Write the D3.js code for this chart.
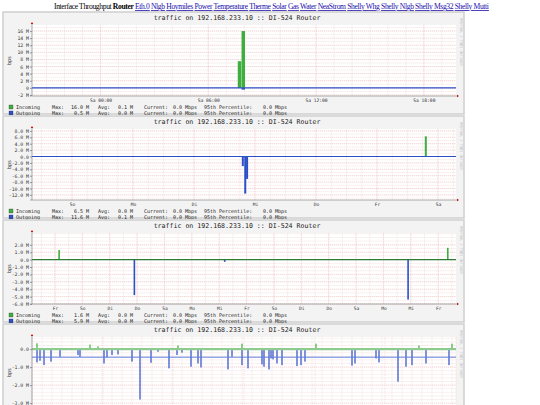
<!DOCTYPE html>
<html><head><meta charset="utf-8">
<script src="https://cdn.jsdelivr.net/npm/d3@7"></script>
<style>
body { margin:0; background:#fff; }
svg text { font-family: "DejaVu Sans Mono", monospace; }
</style></head>
<body><svg id="c" width="540" height="405"></svg>
<script>
var W = 540, H = 405;
var PX0 = 32, PX1 = 456;   // plot x range
var PANEL_X0 = 3, PANEL_X1 = 464;

var navLinks = ["Eth.0", "Nlgb", "Hoymiles", "Power", "Temperature", "Therme", "Solar", "Gas",
    "Water", "NeaStrom", "Shelly Whg", "Shelly Nlgb", "Shelly Msg32", "Shelly Mutti"];

// panel 1: one day, x in hours
var p1Ticks = [0, 6, 12, 18];
var p1TickLabels = ["Sa 00:00", "Sa 06:00", "Sa 12:00", "Sa 18:00"];
var p1In = [[7.74, 7.5], [7.95, 16.0]];
var p1Out = [[7.95, 0.5]];
var p1Stats = [["16.0 M", "0.1 M"], ["0.5 M", "0.0 M"]];

// panel 2: one week, x in days
var p2Ticks = [0, 1, 2, 3, 4, 5, 6];
var p2TickLabels = ["So", "Mo", "Di", "Mi", "Do", "Fr", "Sa"];
var p2In = [[5.80, 6.3]];
var p2Out = [[2.80, 3.0], [2.84, 11.6], [2.87, 7.0]];
var p2Stats = [["6.5 M", "0.0 M"], ["11.6 M", "0.1 M"]];

// panel 3: month, x in days
var p3Ticks = [0, 2, 4, 6, 8, 10, 12, 14, 16, 18, 20, 22, 24, 26, 28];
var p3TickLabels = ["Fr", "So", "Di", "Do", "Sa", "Mo", "Mi", "Fr", "So", "Di", "Do", "Sa", "Mo", "Mi", "Fr"];
var p3In = [[0.3, 1.3], [28.7, 1.6]];
var p3Out = [[5.8, 4.8], [12.4, 0.3], [25.8, 5.4]];
var p3Stats = [["1.6 M", "0.0 M"], ["5.9 M", "0.0 M"]];

// panel 4: year, x in plot columns
var p4In = [[5, 0.32], [58, 0.25], [66, 0.15], [146, 0.2], [210, 0.3], [284, 0.3], [387, 0.2], [420, 0.3]];
var p4Out = [[5, 0.74], [8, 0.65], [12, 0.89], [19, 0.70], [28, 0.43], [46, 0.33], [48, 0.43],
    [72, 0.80], [75, 0.46], [80, 0.33], [86, 0.30], [100, 0.70], [108, 2.8], [119, 0.76],
    [126, 0.15], [137, 1.07], [145, 0.33], [150, 0.20], [159, 0.98], [166, 0.80], [169, 1.02],
    [196, 1.13], [200, 0.43], [210, 0.89], [216, 1.07], [230, 0.85], [232, 0.98], [237, 1.13],
    [239, 0.52], [241, 0.57], [245, 0.80], [250, 0.89], [265, 0.94], [269, 0.89], [273, 0.70],
    [320, 0.92], [323, 0.80], [344, 0.52], [347, 0.74], [366, 1.81], [374, 0.98], [380, 0.89],
    [394, 0.80], [417, 0.89]];
var p4Avg = 0.45;

var GREEN = "#3fae3f", BLUE = "#2c4fc6";

var svg = d3.select("#c");
svg.append("rect").attr("width", W).attr("height", H).attr("fill", "#fff");

// header
var hdr = svg.append("text").attr("x", 54).attr("y", 9)
    .attr("textLength", 435).attr("lengthAdjust", "spacing")
    .style("font-family", "'Liberation Serif', serif").style("font-size", "7.6px");
hdr.append("tspan").attr("fill", "#000").text("Interface Throughput ");
hdr.append("tspan").attr("fill", "#000").attr("font-weight", "bold").text("Router");
navLinks.forEach(function(l) {
    hdr.append("tspan").text(" ");
    hdr.append("tspan").attr("fill", "#1a0dab").attr("text-decoration", "underline").text(l);
});

function panel(top, cfg) {
    var g = svg.append("g");
    g.append("rect").attr("x", PANEL_X0).attr("y", top).attr("width", PANEL_X1 - PANEL_X0)
        .attr("height", 102).attr("fill", "#f3f3f3").attr("stroke", "#cfcfcf").attr("stroke-width", 1.5);
    g.append("text").attr("x", 237).attr("y", top + 8).attr("text-anchor", "middle")
        .attr("fill", "#222").style("font-size", "6.6px").text("traffic on 192.168.233.10 :: DI-524 Router");
    g.append("text").attr("transform", "translate(460," + (top + 6) + ") rotate(90)")
        .attr("fill", "#bbb").style("font-size", "3.6px").text("RRDTOOL / TOBI OETIKER");

    var yTop = top + 13, yBot = top + 84;
    var x = d3.scaleLinear().domain(cfg.xDomain).range([PX0, PX1]);
    var y = d3.scaleLinear().domain(cfg.yDomain).range([yBot, yTop]);
    g.append("rect").attr("x", PX0).attr("y", yTop).attr("width", PX1 - PX0).attr("height", yBot - yTop).attr("fill", "#fff");

    // grids
    var grid = g.append("g");
    d3.range(Math.ceil(cfg.yDomain[0] / cfg.yMinor) * cfg.yMinor, cfg.yDomain[1], cfg.yMinor).forEach(function(v) {
        grid.append("line").attr("x1", PX0).attr("x2", PX1).attr("y1", y(v)).attr("y2", y(v))
            .attr("stroke", "#f5e0e0").attr("stroke-width", 0.5);
    });
    d3.range(Math.ceil(cfg.xDomain[0] / cfg.xMinor) * cfg.xMinor, cfg.xDomain[1], cfg.xMinor).forEach(function(v) {
        grid.append("line").attr("x1", x(v)).attr("x2", x(v)).attr("y1", yTop).attr("y2", yBot)
            .attr("stroke", "#f5e0e0").attr("stroke-width", 0.5);
    });
    cfg.yTicks.forEach(function(v) {
        grid.append("line").attr("x1", PX0).attr("x2", PX1).attr("y1", y(v)).attr("y2", y(v))
            .attr("stroke", "#eebcbc").attr("stroke-width", 0.5).attr("stroke-dasharray", "1,1");
    });
    cfg.xMajor.forEach(function(v) {
        grid.append("line").attr("x1", x(v)).attr("x2", x(v)).attr("y1", yTop).attr("y2", yBot)
            .attr("stroke", "#eebcbc").attr("stroke-width", 0.5).attr("stroke-dasharray", "1,1");
    });

    // y axis labels
    var ya = d3.axisLeft(y).tickValues(cfg.yTicks).tickSize(2).tickFormat(cfg.yFmt);
    var yg = g.append("g").attr("transform", "translate(" + PX0 + ",0)").call(ya);
    yg.select(".domain").remove();
    yg.selectAll("line").attr("stroke", "#999");
    yg.selectAll("text").attr("fill", "#333").style("font-size", "4.8px").attr("x", -3);
    g.append("text").attr("transform", "translate(11," + ((yTop + yBot) / 2) + ") rotate(-90)")
        .attr("text-anchor", "middle").attr("fill", "#333").style("font-size", "5px").text("bps");

    // x axis labels
    if (cfg.xTicks) {
        var xa = d3.axisBottom(x).tickValues(cfg.xTicks).tickSize(0).tickFormat(function(d, i) { return cfg.xLabels[i]; });
        var xg = g.append("g").attr("transform", "translate(0," + yBot + ")").call(xa);
        xg.select(".domain").remove();
        xg.selectAll("text").attr("fill", "#333").style("font-size", "4.6px").attr("y", 5.5).attr("dy", 0);
    }

    // data
    var bw = cfg.bw;
    g.selectAll(".out").data(cfg.out).enter().append("rect")
        .attr("x", function(d) { return x(d[0]) - bw / 2; }).attr("width", bw)
        .attr("y", y(0)).attr("height", function(d) { return y(-d[1]) - y(0); })
        .attr("fill", BLUE);
    g.selectAll(".in").data(cfg.inc).enter().append("rect")
        .attr("x", function(d) { return x(d[0]) - bw / 2; }).attr("width", bw)
        .attr("y", function(d) { return y(d[1]); }).attr("height", function(d) { return y(0) - y(d[1]); })
        .attr("fill", GREEN);
    if (cfg.avg != null) {
        g.append("line").attr("x1", PX0).attr("x2", PX1).attr("y1", y(0)).attr("y2", y(0))
            .attr("stroke", "#8fcb8f").attr("stroke-width", 2.2);
        g.append("line").attr("x1", PX0).attr("x2", PX1).attr("y1", y(-cfg.avg)).attr("y2", y(-cfg.avg))
            .attr("stroke", "#5f7fdc").attr("stroke-width", 1);
    } else {
        g.append("line").attr("x1", PX0).attr("x2", PX1).attr("y1", y(0)).attr("y2", y(0))
            .attr("stroke", cfg.zeroColor).attr("stroke-width", 1.2);
    }

    // axes with arrows
    g.append("line").attr("x1", PX0).attr("x2", PX0).attr("y1", yTop - 2).attr("y2", yBot).attr("stroke", "#777").attr("stroke-width", 0.6);
    g.append("line").attr("x1", PX0 - 2).attr("x2", PX1 + 2).attr("y1", yBot).attr("y2", yBot).attr("stroke", "#777").attr("stroke-width", 0.6);
    g.append("path").attr("d", "M" + (PX0 - 1.2) + "," + (yTop - 1) + "L" + PX0 + "," + (yTop - 3) + "L" + (PX0 + 1.2) + "," + (yTop - 1) + "Z").attr("fill", "#c00");
    g.append("path").attr("d", "M" + (PX1 + 1) + "," + (yBot - 1.2) + "L" + (PX1 + 3) + "," + yBot + "L" + (PX1 + 1) + "," + (yBot + 1.2) + "Z").attr("fill", "#c00");

    // legend
    if (!cfg.stats) return;
    [["Incoming", GREEN], ["Outgoing", BLUE]].forEach(function(s, i) {
        var ly = top + 97 + i * 6;
        g.append("rect").attr("x", 9).attr("y", ly - 4).attr("width", 4).attr("height", 4)
            .attr("fill", s[1]).attr("stroke", "#333").attr("stroke-width", 0.3);
        var st = cfg.stats[i];
        var cells = [[16, "start", s[0]], [52, "start", "Max:"], [89, "end", st[0]], [98, "start", "Avg:"],
            [133, "end", st[1]], [144, "start", "Current:"], [197, "end", "0.0 Mbps"],
            [204, "start", "95th Percentile:"], [287, "end", "0.0 Mbps"]];
        cells.forEach(function(c) {
            g.append("text").attr("x", c[0]).attr("y", ly).attr("text-anchor", c[1])
                .attr("fill", "#222").style("font-size", "5px").text(c[2]);
        });
    });
}

function mFmt(dec) {
    return function(v) { return v === 0 ? (dec ? "0.0" : "0") : (dec ? v.toFixed(1) : v) + " M"; };
}

panel(12, {
    xDomain: [-3.81, 19.79], yDomain: [-2.3, 17.7],
    yTicks: d3.range(-2, 17, 2), yMinor: 1, yFmt: mFmt(false),
    xMinor: 1, xMajor: [0, 6, 12, 18], xTicks: p1Ticks, xLabels: p1TickLabels,
    inc: p1In, out: p1Out, stats: p1Stats, zeroColor: BLUE, bw: 3.5
});
panel(116, {
    xDomain: [-0.656, 6.295], yDomain: [-13.6, 8.6],
    yTicks: d3.range(-12, 9, 2), yMinor: 1, yFmt: mFmt(true),
    xMinor: 0.25, xMajor: p2Ticks, xTicks: p2Ticks, xLabels: p2TickLabels,
    inc: p2In, out: p2Out, stats: p2Stats, zeroColor: BLUE, bw: 2
});
panel(220, {
    xDomain: [-1.68, 29.3], yDomain: [-6, 3.6],
    yTicks: d3.range(-6, 3, 1), yMinor: 0.5, yFmt: mFmt(true),
    xMinor: 1, xMajor: p3Ticks, xTicks: p3Ticks, xLabels: p3TickLabels,
    inc: p3In, out: p3Out, stats: p3Stats, zeroColor: "#2f7a35", bw: 1.6
});
panel(324, {
    xDomain: [0, 424], yDomain: [-3.27, 0.67],
    yTicks: [-3, -2, -1, 0], yMinor: 0.2, yFmt: mFmt(true),
    xMinor: 10, xMajor: [0, 71, 141, 212, 283, 353, 424], xTicks: null,
    inc: p4In, out: p4Out, stats: null, avg: p4Avg, bw: 1.2
});
</script></body></html>
